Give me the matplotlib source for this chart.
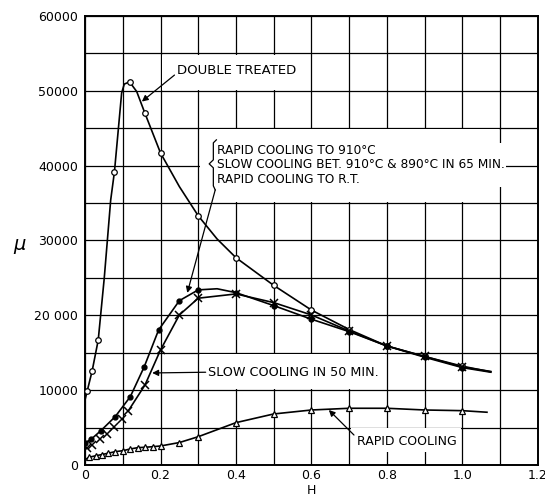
import matplotlib
matplotlib.use('Agg')
import matplotlib.pyplot as plt
from matplotlib.patches import Rectangle

# double treated (open circles)
dt_h = [0.0, 0.006, 0.019, 0.035, 0.051, 0.068, 0.078, 0.097, 0.104, 0.118, 0.137, 0.158, 0.2, 0.25, 0.3, 0.35, 0.4, 0.5, 0.6, 0.7, 0.8, 0.9, 1.0, 1.075]
dt_mu = [8700, 9930, 12600, 16700, 25000, 35400, 39200, 49700, 50900, 51200, 49900, 47100, 41700, 37200, 33300, 30200, 27700, 24000, 20700, 18100, 15900, 14500, 13200, 12450]
dt_mark_h = [0.006, 0.019, 0.035, 0.078, 0.118, 0.158, 0.2, 0.3, 0.4, 0.5, 0.6, 0.7, 0.8, 0.9, 1.0]
dt_mark_mu = [9930, 12600, 16700, 39200, 51200, 47100, 41700, 33300, 27700, 24000, 20700, 18100, 15900, 14500, 13200]

# slow cooling 910-890 in 65 min (filled dots)
s65_h = [0.0, 0.016, 0.042, 0.08, 0.12, 0.157, 0.195, 0.25, 0.3, 0.35, 0.4, 0.5, 0.6, 0.7, 0.8, 0.9, 1.0, 1.075]
s65_mu = [2980, 3430, 4590, 6460, 9130, 13140, 18050, 21960, 23400, 23550, 23030, 21300, 19480, 17820, 15900, 14400, 13010, 12400]
s65_mark_h = [0.0, 0.016, 0.042, 0.08, 0.12, 0.157, 0.195, 0.25, 0.3, 0.4, 0.5, 0.6, 0.7, 0.8, 0.9, 1.0]
s65_mark_mu = [2980, 3430, 4590, 6460, 9130, 13140, 18050, 21960, 23400, 23030, 21300, 19480, 17820, 15900, 14400, 13010]

# slow cooling in 50 min (crosses)
s50_h = [0.005, 0.019, 0.04, 0.059, 0.078, 0.097, 0.115, 0.159, 0.2, 0.25, 0.3, 0.4, 0.5, 0.6, 0.7, 0.8, 0.9, 1.0, 1.075]
s50_mu = [2300, 2670, 3430, 4140, 5120, 6150, 7260, 10700, 15370, 20050, 22290, 22860, 21700, 20050, 17900, 15900, 14500, 13100, 12500]
s50_line_start = 6  # curve drawn only from H=0.115 on

# rapid cooling (open triangles)
rc_h = [0.0, 0.01, 0.03, 0.045, 0.062, 0.08, 0.10, 0.12, 0.14, 0.16, 0.18, 0.2, 0.25, 0.3, 0.4, 0.5, 0.6, 0.7, 0.8, 0.9, 1.0, 1.065]
rc_mu = [700, 1030, 1250, 1400, 1580, 1780, 1910, 2140, 2320, 2370, 2450, 2540, 3000, 3780, 5660, 6820, 7350, 7580, 7580, 7350, 7260, 7050]

x_ticks = [0, 0.2, 0.4, 0.6, 0.8, 1.0, 1.2]
x_labels = ['0', '0.2', '0.4', '0.6', '0.8', '1.0', '1.2']
y_ticks = [0, 10000, 20000, 30000, 40000, 50000, 60000]
y_labels = ['0', '10000', '20 000', '30000', '40000', '50000', '60000']

lw = 1.2
fig = plt.figure(figsize=(5.45, 4.97), dpi=100)
ax = fig.add_axes([0.156, 0.0644, 0.831, 0.9034])
ax.set_xlim(0, 1.2)
ax.set_ylim(0, 60000)

# grid every 0.1 / 5000
ax.set_xticks(x_ticks)
ax.set_xticklabels(x_labels)
ax.set_xticks([i / 10 for i in range(13)], minor=True)
ax.set_yticks(y_ticks)
ax.set_yticklabels(y_labels)
ax.set_yticks(list(range(0, 60001, 5000)), minor=True)
ax.grid(True, which='both', color='black', linewidth=0.9)
ax.set_axisbelow(True)
ax.tick_params(which='both', length=0)
ax.tick_params(axis='x', pad=3, labelsize=9)
ax.tick_params(axis='y', pad=5, labelsize=9)
for sp in ax.spines.values():
    sp.set_linewidth(1.4)

# white boxes behind the labels (grid erased there)
def white_box(h0, h1, m0, m1):
    ax.add_patch(Rectangle((h0 + 0.004, m0 + 150), h1 - h0 - 0.008, m1 - m0 - 300,
                           facecolor='white', edgecolor='none', zorder=1))

white_box(0.2, 0.6, 50000, 55000)
white_box(0.3, 1.1, 35000, 45000)
white_box(0.3, 0.8, 10000, 15000)
white_box(0.7, 1.0, 1600, 5100)

# curves
ax.plot(dt_h, dt_mu, color='black', lw=lw, zorder=3)
ax.plot(dt_mark_h, dt_mark_mu, ls='none', marker='o', ms=4, mfc='white', mec='black', mew=0.9, zorder=4)

ax.plot(s65_h, s65_mu, color='black', lw=lw, zorder=3)
ax.plot(s65_mark_h, s65_mark_mu, ls='none', marker='o', ms=3.5, mfc='black', mec='black', zorder=4)

ax.plot(s50_h[s50_line_start:], s50_mu[s50_line_start:], color='black', lw=lw, zorder=3)
ax.plot(s50_h[:-1], s50_mu[:-1], ls='none', marker='x', ms=5.5, mec='black', mew=1.1, zorder=4)

ax.plot(rc_h, rc_mu, color='black', lw=lw, zorder=3)
ax.plot(rc_h[1:-1], rc_mu[1:-1], ls='none', marker='^', ms=4.5, mfc='white', mec='black', mew=0.9, zorder=4)

arrow = dict(arrowstyle='-|>', color='black', lw=0.9, mutation_scale=9, shrinkA=0, shrinkB=0)

ax.annotate('DOUBLE TREATED', xy=(0.1506, 48570), xytext=(0.2444, 52670),
            fontsize=9.5, va='center', ha='left', zorder=5,
            arrowprops=dict(arrowstyle='-|>', color='black', lw=0.9, mutation_scale=9,
                            shrinkA=0, shrinkB=0, relpos=(0, 0.35)))

ax.text(0.350, 40100,
        'RAPID COOLING TO 910\u00b0C\nSLOW COOLING BET. 910\u00b0C & 890\u00b0C IN 65 MIN.\nRAPID COOLING TO R.T.',
        fontsize=8.7, va='center', ha='left', linespacing=1.15, zorder=5,
        bbox=dict(facecolor='white', edgecolor='none', pad=1))
# brace
ax.plot([0.348, 0.340, 0.340, 0.329, 0.340, 0.340, 0.345],
        [43450, 43050, 40780, 40240, 39710, 37300, 36760], color='black', lw=0.9, zorder=5)
ax.annotate('', xy=(0.271, 23000), xytext=(0.345, 36760), arrowprops=arrow, zorder=5)

ax.annotate('SLOW COOLING IN 50 MIN.', xy=(0.178, 12300), xytext=(0.327, 12400),
            fontsize=9.2, va='center', ha='left', zorder=5,
            arrowprops=dict(arrowstyle='-|>', color='black', lw=0.9, mutation_scale=9,
                            shrinkA=0, shrinkB=0, relpos=(0, 0.5)))

ax.annotate('RAPID COOLING', xy=(0.646, 7350), xytext=(0.72, 3115),
            fontsize=9, va='center', ha='left', zorder=5,
            arrowprops=dict(arrowstyle='-|>', color='black', lw=0.9, mutation_scale=9,
                            shrinkA=0, shrinkB=0, relpos=(0, 0.8)))

fig.text(19 / 545, 1 - 244 / 497, '\u03bc', fontsize=14, style='italic', ha='center', va='center')
fig.text(311.7 / 545, 1 - 491 / 497, 'H', fontsize=9, ha='center', va='center')

fig.savefig('out.png', dpi=100)
